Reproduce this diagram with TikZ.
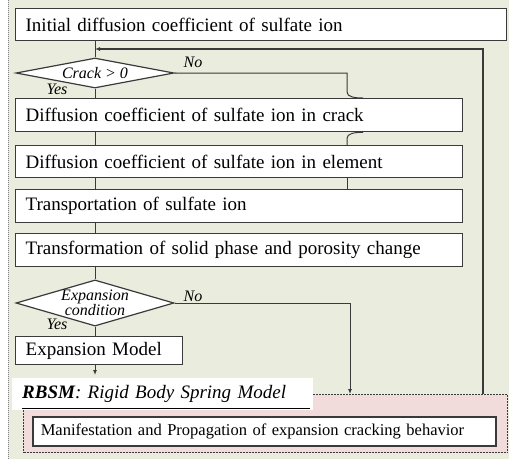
\documentclass[tikz,border=0pt]{standalone}
\usepackage{fontspec}
\setmainfont{Liberation Serif}
\usetikzlibrary{shapes.geometric,arrows.meta}
\definecolor{bggreen}{HTML}{EAEDDD}
\definecolor{rbsmpink}{HTML}{F2DCDB}
\definecolor{boxline}{HTML}{3A3A3A}

\begin{document}
\begin{tikzpicture}[x=1pt, y=-1pt,
    procbox/.style={draw=boxline, fill=white, line width=1.3pt, anchor=north west,
      inner xsep=10pt, inner ysep=0pt, minimum height=33pt, text width=#1,
      align=left, font=\fontsize{19}{21}\selectfont},
    decision/.style={diamond, draw=boxline, fill=white, line width=1.2pt, inner sep=0pt,
      minimum width=158pt, align=center, font=\itshape\fontsize{16}{13}\selectfont},
    answer/.style={font=\itshape\fontsize{16}{16}\selectfont, inner sep=0pt},
    link/.style={draw=boxline, line width=1pt},
    tip/.style={-{Latex[length=5pt,width=4pt]}}]
  \useasboundingbox (0,0) rectangle (509,459);
  % background
  \fill[bggreen] (8,0) rectangle (509,459);
  \draw[densely dotted, gray, line width=1pt] (8,0) -- (8,459);
  \coordinate (spine) at (95,0);
  \coordinate (bypass) at (347,0);
  \coordinate (hop) at (363,0);
  \coordinate (noline) at (350,0);
  \coordinate (back) at (483,0);

  % boxes
  \node[procbox=471pt, minimum height=32pt] (init) at (15,8) {Initial diffusion coefficient of sulfate ion};
  \node[decision, aspect=5.3, minimum height=30pt] (crackq) at (95,73) {Crack > 0};
  \node[procbox=427pt] (crack) at (15,98) {Diffusion coefficient of sulfate ion in crack};
  \node[procbox=427pt, minimum height=32pt] (elem) at (15,145) {Diffusion coefficient of sulfate ion in element};
  \node[procbox=427pt] (trans) at (15,189) {Transportation of sulfate ion};
  \node[procbox=427pt] (transf) at (15,233) {Transformation of solid phase and porosity change};
  \node[decision, aspect=3.4, minimum height=46pt] (expq) at (95,303) {Expansion\\condition};
  \node[procbox=147pt, minimum height=28pt] (expmodel) at (15,336) {Expansion Model};

  % RBSM part
  \node[draw=boxline, dash pattern=on 2pt off 1pt, line width=1pt, fill=rbsmpink, anchor=north west,
    minimum width=484pt, minimum height=58pt, inner sep=0pt] (rbsm) at (23,394) {};
  \node[draw=boxline, fill=white, line width=1.6pt, anchor=north west, minimum width=463pt,
    minimum height=29pt, inner xsep=8pt, inner ysep=0pt, text width=447pt, align=left,
    font=\fontsize{16.5}{18}\selectfont] (manif) at (32,416)
    {Manifestation and Propagation of expansion cracking behavior};
  \node[fill=white, anchor=north west, minimum width=291pt, minimum height=32pt,
    inner xsep=10pt, inner ysep=0pt, text width=281pt, align=left,
    font=\itshape\fontsize{19}{21}\selectfont] (rbsmlabel) at (12,378)
    {\textbf{RBSM}: Rigid Body Spring Model};
  \draw[black, line width=0.9pt] ([xshift=10pt,yshift=2pt]rbsmlabel.south west)
    -- ([xshift=-3pt,yshift=2pt]rbsmlabel.south east);

  % answers
  \node[answer] (crackno) at (193,62) {No};
  \node[answer] (crackyes) at (57,89) {Yes};
  \node[answer] (expno) at (193,296) {No};
  \node[answer] (expyes) at (57,324) {Yes};

  % main flow
  \draw[link] (spine |- init.south) -- (crackq.north);
  \draw[link] (crackq.south) -- (spine |- crack.north);
  \draw[link] (spine |- crack.south) -- (spine |- elem.north);
  \draw[link] (spine |- elem.south) -- (spine |- trans.north);
  \draw[link] (spine |- trans.south) -- (spine |- transf.north);
  \draw[link] (spine |- transf.south) -- (expq.north);
  \draw[link] (expq.south) -- (spine |- expmodel.north);
  \draw[link, tip] (spine |- expmodel.south) -- ([yshift=3pt]spine |- rbsmlabel.north);

  % no crack
  \draw[link] (crackq.east) -- (bypass |- crackq.east) -- ([yshift=6pt]bypass |- crack.north)
    .. controls ([yshift=1pt]bypass |- crack.north) and ([xshift=-8pt]hop |- crack.north) .. (hop |- crack.north);
  \draw[link] (hop |- crack.south) .. controls ([xshift=-8pt]hop |- crack.south) and ([yshift=-1pt]bypass |- crack.south)
    .. ([yshift=-6pt]bypass |- crack.south) -- (bypass |- elem.north);
  \draw[link] (bypass |- elem.south) -- (bypass |- trans.north);

  % no expansion
  \draw[link, tip] (expq.east) -- (noline |- expq.east) -- (noline |- rbsm.north);

  % feedback
  \draw[link, line width=1.3pt, tip] (back |- rbsm.north) -- (back |- 0,49) -- (spine |- 0,49);
\end{tikzpicture}
\end{document}
